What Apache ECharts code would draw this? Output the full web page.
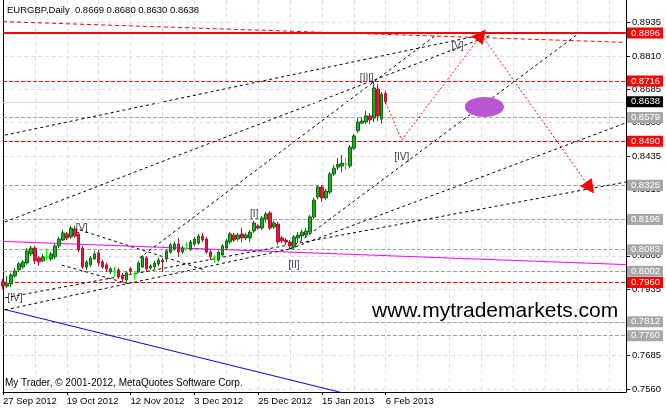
<!DOCTYPE html>
<html><head><meta charset="utf-8">
<script src="https://cdn.jsdelivr.net/npm/echarts@6/dist/echarts.min.js"></script>
<style>html,body{margin:0;padding:0;background:#fff}#c{width:666px;height:409px}</style>
</head><body><div id="c"></div>
<script>
const symbolName = 'EURGBP,Daily';
const dateLabels = ['27 Sep 2012','19 Oct 2012','12 Nov 2012','3 Dec 2012','25 Dec 2012','15 Jan 2013','6 Feb 2013'];
const yTicks = [0.7560,0.7685,0.7810,0.7935,0.8060,0.8185,0.8310,0.8435,0.8560,0.8685,0.8810,0.8935];
// daily candles: [open, close, low, high]
const candles = [
[0.7963,0.7948,0.7935,0.7973],[0.7946,0.7957,0.7939,0.7984],[0.7954,0.7988,0.7942,0.7996],[0.7984,0.8003,0.7977,0.8014],
[0.8007,0.8030,0.7999,0.8037],[0.8018,0.8037,0.8011,0.8044],[0.8033,0.8078,0.8026,0.8089],[0.8067,0.8089,0.8059,0.8097],
[0.8089,0.8041,0.8029,0.8097],[0.8052,0.8037,0.8022,0.8059],[0.8041,0.8056,0.8037,0.8067],[0.8055,0.8055,0.8044,0.8085],
[0.8048,0.8067,0.8041,0.8074],[0.8056,0.8097,0.8048,0.8104],[0.8097,0.8123,0.8089,0.8131],[0.8119,0.8146,0.8116,0.8157],
[0.8142,0.8127,0.8119,0.8149],[0.8131,0.8164,0.8123,0.8172],[0.8161,0.8134,0.8127,0.8172],[0.8142,0.8082,0.8074,0.8149],
[0.8089,0.8018,0.8011,0.8097],[0.8018,0.8037,0.8007,0.8044],[0.8026,0.8052,0.8018,0.8059],[0.8048,0.8067,0.8044,0.8078],
[0.8071,0.8033,0.8022,0.8082],[0.8037,0.8018,0.8011,0.8044],[0.8026,0.8011,0.7999,0.8033],[0.7999,0.8011,0.7992,0.8018],
[0.8003,0.8003,0.7981,0.8018],[0.8007,0.7981,0.7973,0.8014],[0.7988,0.7973,0.7962,0.7996],[0.7969,0.7996,0.7962,0.8003],
[0.8011,0.8003,0.7988,0.8018],[0.7988,0.7988,0.7969,0.8003],[0.7999,0.8033,0.7996,0.8041],[0.8018,0.8056,0.8014,0.8063],
[0.8052,0.8011,0.7999,0.8059],[0.8014,0.8022,0.8007,0.8029],[0.8018,0.8033,0.8011,0.8041],[0.8029,0.8044,0.8022,0.8052],
[0.8044,0.8037,0.7999,0.8052],[0.8048,0.8078,0.8037,0.8085],[0.8074,0.8101,0.8067,0.8108],[0.8085,0.8104,0.8078,0.8112],
[0.8104,0.8074,0.8056,0.8127],[0.8074,0.8089,0.8067,0.8097],[0.8101,0.8101,0.8082,0.8112],[0.8085,0.8112,0.8078,0.8119],
[0.8104,0.8123,0.8097,0.8131],[0.8108,0.8134,0.8101,0.8142],[0.8134,0.8119,0.8112,0.8146],[0.8123,0.8074,0.8067,0.8131],
[0.8074,0.8056,0.8044,0.8082],[0.8056,0.8056,0.8033,0.8063],[0.8044,0.8074,0.8037,0.8082],[0.8063,0.8097,0.8056,0.8104],
[0.8089,0.8116,0.8082,0.8123],[0.8112,0.8142,0.8104,0.8149],[0.8138,0.8119,0.8112,0.8146],[0.8123,0.8138,0.8116,0.8146],
[0.8142,0.8127,0.8112,0.8164],[0.8127,0.8138,0.8119,0.8146],[0.8127,0.8149,0.8112,0.8157],[0.8153,0.8183,0.8146,0.8191],
[0.8172,0.8164,0.8157,0.8179],[0.8164,0.8202,0.8157,0.8209],[0.8198,0.8217,0.8187,0.8224],[0.8221,0.8164,0.8157,0.8228],
[0.8168,0.8183,0.8161,0.8191],[0.8179,0.8112,0.8101,0.8187],[0.8127,0.8116,0.8108,0.8134],[0.8119,0.8112,0.8101,0.8127],
[0.8112,0.8097,0.8085,0.8119],[0.8093,0.8131,0.8085,0.8138],[0.8127,0.8138,0.8108,0.8149],[0.8134,0.8149,0.8119,0.8157],
[0.8138,0.8153,0.8127,0.8164],[0.8149,0.8206,0.8142,0.8213],[0.8206,0.8269,0.8198,0.8277],[0.8281,0.8318,0.8273,0.8326],
[0.8318,0.8277,0.8262,0.8326],[0.8277,0.8303,0.8269,0.8311],[0.8299,0.8367,0.8292,0.8374],[0.8367,0.8389,0.8359,0.8401],
[0.8393,0.8404,0.8382,0.8427],[0.8397,0.8408,0.8374,0.8438],[0.8404,0.8404,0.8382,0.8427],[0.8397,0.8468,0.8389,0.8476],
[0.8464,0.8510,0.8457,0.8517],[0.8529,0.8562,0.8521,0.8577],[0.8558,0.8566,0.8555,0.8581],[0.8562,0.8585,0.8555,0.8604],
[0.8585,0.8570,0.8555,0.8596],[0.8577,0.8690,0.8562,0.8716],[0.8686,0.8585,0.8566,0.8705],[0.8573,0.8667,0.8555,0.8675],
[0.8669,0.8638,0.8630,0.8680]
];
const mainLevel = 0.8896;
const redLevels = [0.8716,0.8490,0.7960];
const grayLevels = [0.8579,0.8325,0.8196,0.8083,0.8002,0.7812,0.7760];
// trend lines: [[barIndex, price],[barIndex, price]]
const lineA = [[0.5,0.8513],[120,0.8889]];
const lineB = [[0.5,0.8187],[122.5,0.8889]];
const lineC = [[34.25,0.8052],[109.25,0.8896]];
const lineD = [[72,0.8086],[144.25,0.8893]];
const lineE = [[72,0.8086],[156.25,0.8559]];
const lineF = [[0.5,0.7902],[156.25,0.8337]];
const lineG = [[19.25,0.8157],[50.5,0.8007]];
const lineH = [[0.5,0.7857],[72,0.8086]];
const lineI = [[14.75,0.8025],[31.75,0.7954]];
const magentaLine = [[0,0.8114],[156.25,0.8027]];
const blueLine = [[0,0.7860],[94.25,0.7512]];
const redSlope = [[0,0.8939],[156.25,0.8861]];
const projection = [[96,0.8634],[100,0.8495],[120,0.8889],[147.25,0.8315]];
const targetZone = [[120.75,0.8619]];
const waveLabels = [['[IV]',3,0.7902],['[V]',19.75,0.8164],['[I]',63,0.8217],['[II]',73,0.8025],['[III]',91.25,0.8727],['[IV]',100,0.8431],['[V]',114,0.8848]];

const FONT = 'Liberation Sans';
const YMIN = 0.75487, YMAX = 0.90202;
const last = candles[candles.length-1];
const bid = last[1];
const header = symbolName + '  ' + [last[0], last[3], last[2], last[1]].map(v => v.toFixed(4)).join(' ');

const candleData = candles.map((c, i) => {
  const item = {value: [i, c[0], c[1], c[2], c[3]]};
  if (c[0] === c[1]) item.itemStyle = {color:'#00ff00', color0:'#00ff00', borderColor:'#00ff00', borderColor0:'#00ff00'};
  return item;
});

const dash = (data, color, type, z, width) => ({
  type:'line', data: data, symbol:'none', silent:true, z: z || 4,
  itemStyle:{color: color},
  lineStyle:{color: color, width: width || 1, type: type}, animation:false
});

// horizontal price levels drawn as extra right-side axes (crisp split lines + price boxes)
const levelAxis = (values, lineColor, lineType, lineWidth, boxColor) => ({
  type:'value', position:'right', min:YMIN, max:YMAX, z:4,
  axisLine:{show:false},
  axisTick:{show:false, customValues: values},
  axisLabel:{show:true, customValues: values, margin:1, color:'#fff', backgroundColor: boxColor,
    fontSize:9.5, fontFamily:FONT, lineHeight:10, padding:[1,3,0,4], formatter: v => v.toFixed(4)},
  splitLine:{show:true, lineStyle:{color: lineColor, width: lineWidth, type: lineType}}
});

const chart = echarts.init(document.getElementById('c'), null, {renderer:'canvas'});
chart.setOption({
  animation:false,
  backgroundColor:'#ffffff',
  textStyle:{fontFamily: FONT},
  title:[
    {text: header, left:7, top:5, padding:0, textStyle:{fontSize:9.5, fontWeight:'normal', color:'#000', fontFamily:FONT, lineHeight:11}},
    {text:'www.mytrademarkets.com', left:372, top:300, padding:0, textStyle:{fontSize:21, fontWeight:'normal', color:'#000', fontFamily:FONT, lineHeight:22}},
    {text:'My Trader, \u00a9 2001-2012, MetaQuotes Software Corp.', left:5, top:378, padding:0, textStyle:{fontSize:10, fontWeight:'normal', color:'#000', fontFamily:FONT, lineHeight:11}}
  ],
  grid:{left:3, right:38, top:0, bottom:17, containLabel:false},
  xAxis:[
    {type:'value', min:0, max:156.25, interval:8,
     axisLine:{show:true, onZero:false, lineStyle:{color:'#000', width:1}},
     axisTick:{show:false},
     axisLabel:{show:true, align:'left', margin:4, fontSize:9.5, color:'#000', fontFamily:FONT,
       showMinLabel:true, showMaxLabel:false,
       formatter: v => (v % 16 === 0 && v/16 < dateLabels.length) ? dateLabels[v/16] : ''},
     splitLine:{show:true, lineStyle:{color:'#dcdcee', type:[4,3], width:1}}},
    {type:'value', min:0, max:156.25, position:'bottom',
     axisLine:{show:false}, axisLabel:{show:false}, splitLine:{show:false},
     axisTick:{show:true, length:3, customValues: dateLabels.map((d,i) => i*16), lineStyle:{color:'#000'}}}
  ],
  yAxis:[
    {type:'value', position:'right', min:YMIN, max:YMAX, scale:true,
     axisLine:{show:true, onZero:false, lineStyle:{color:'#000'}},
     axisTick:{show:true, length:4, customValues: yTicks, lineStyle:{color:'#000'}},
     axisLabel:{show:true, margin:6, fontSize:9.5, color:'#000', fontFamily:FONT, customValues: yTicks, formatter: v => v.toFixed(4)},
     splitLine:{show:true, lineStyle:{color:'#dcdcee', type:[4,3], width:1}}},
    {type:'value', position:'left', min:YMIN, max:YMAX,
     axisLine:{show:true, onZero:false, lineStyle:{color:'#000'}},
     axisTick:{show:false}, axisLabel:{show:false}, splitLine:{show:false}},
    levelAxis(grayLevels, '#a0a0a0', [4,2], 1, '#a8a8a8'),
    levelAxis(redLevels, '#ff0000', [4,2], 1, '#ff0000'),
    levelAxis([mainLevel], '#ff0000', 'solid', 2, '#ff0000')
  ],
  series:[
    dash(magentaLine, '#ff00ff', 'solid', 4),
    dash(blueLine, '#0000ff', 'solid', 4),
    dash(redSlope, '#ff0000', [4,3], 4),
    dash(lineA, '#000', [3,3]),
    dash(lineB, '#000', [3,3]),
    dash(lineC, '#000', [3,3]),
    dash(lineD, '#000', [3,3]),
    dash(lineE, '#000', [3,3]),
    dash(lineF, '#000', [3,3]),
    dash(lineG, '#000', [3,3]),
    dash(lineH, '#000', [3,3]),
    dash(lineI, '#000', [3,3]),
    {type:'scatter', data: targetZone, symbol:'circle', symbolSize:[39,20], silent:true, z:5,
     itemStyle:{color:'#ba55d3', opacity:1}},
    {type:'line', data:[], symbol:'none', silent:true, z:6, itemStyle:{color:'#dcdcf0'},
     markLine:{symbol:['none','none'], silent:true, animation:false, precision:4,
       lineStyle:{color:'#dcdcf0', width:1, type:'solid'},
       label:{show:true, position:'end', distance:1, color:'#fff', backgroundColor:'#000',
         fontSize:9.5, fontFamily:FONT, lineHeight:10, padding:[1,3,0,4],
         formatter: p => Number(p.value).toFixed(4)},
       data:[{yAxis: bid}]}},
    {type:'lines', coordinateSystem:'cartesian2d', silent:true, z:7, polyline:false,
     symbol:['none','none'], lineStyle:{color:'#ff0000', width:1, type:[2,2], opacity:1},
     data:[{coords:[projection[0], projection[1]]}]},
    {type:'lines', coordinateSystem:'cartesian2d', silent:true, z:7, polyline:false,
     symbol:['none','triangle'], symbolSize:14, lineStyle:{color:'#ff0000', width:1, type:[2,2], opacity:1},
     data:[{coords:[projection[1], projection[2]]},{coords:[projection[2], projection[3]]}]},
    {type:'candlestick', dimensions:['x','open','close','lowest','highest'],
     encode:{x:'x', y:['open','close','lowest','highest']},
     data: candleData, barWidth:3, z:10, silent:true,
     itemStyle:{color:'#22a822', color0:'#e8163c', borderColor:'#0b6b0b', borderColor0:'#b8102c', borderWidth:1}},
    {type:'scatter', data: waveLabels.map(w => ({name:w[0], value:[w[1], w[2]]})), symbolSize:1, silent:true, z:12,
     itemStyle:{color:'rgba(0,0,0,0)'},
     label:{show:true, position:'inside', formatter: p => p.name, color:'#000018', fontSize:10, fontFamily:FONT}}
  ]
});
</script></body></html>
